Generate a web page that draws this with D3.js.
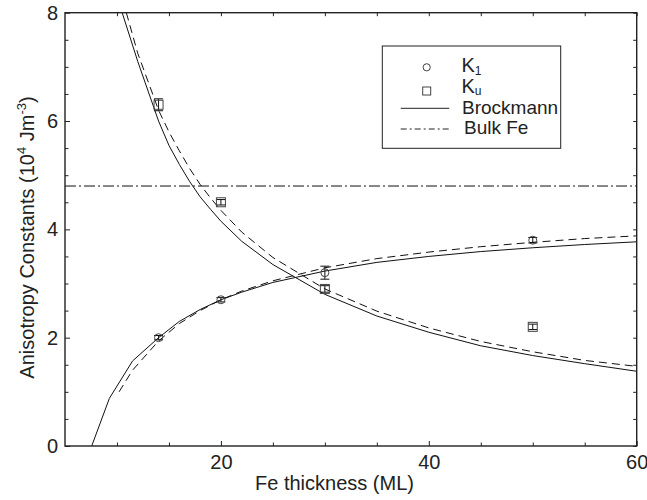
<!DOCTYPE html>
<html><head><meta charset="utf-8">
<script src="https://cdn.jsdelivr.net/npm/d3@7"></script>
<style>body{margin:0;background:#fff}svg{display:block}text{font-family:"Liberation Sans",Arial,sans-serif;fill:#222}</style>
</head><body><svg id="c" width="647" height="500"></svg>
<script>
// Data
const k1Thickness = [14, 20, 30, 50];
const k1Values = [2.0, 2.7, 3.2, 3.8];
const k1Err = [0.04, 0.04, 0.12, 0.05];
const kuThickness = [14, 20, 30, 50];
const kuValues = [6.3, 4.5, 2.9, 2.2];
const kuErr = [0.11, 0.05, 0.06, 0.05];
// Brockmann model curves
const k1SolidT = [7.57, 9.27, 11.5, 14, 16, 18, 20, 22, 25, 30, 35, 40, 45, 50, 55, 60];
const k1SolidV = [0, 0.88, 1.57, 2.0, 2.3, 2.52, 2.7, 2.84, 3.02, 3.23, 3.39, 3.5, 3.59, 3.66, 3.72, 3.77];
const k1DashT = [10.2, 11.5, 14, 16, 18, 20, 22, 25, 30, 35, 40, 45, 50, 55, 60];
const k1DashV = [1.0, 1.4, 1.94, 2.26, 2.5, 2.7, 2.86, 3.05, 3.29, 3.46, 3.58, 3.68, 3.76, 3.83, 3.88];
const kuSolidT = [10.5, 12, 14, 15, 16, 17, 18, 19, 20, 22, 25, 30, 35, 40, 45, 50, 55, 60];
const kuSolidV = [8.0, 7.1, 6.0, 5.55, 5.2, 4.88, 4.6, 4.37, 4.15, 3.78, 3.35, 2.8, 2.4, 2.1, 1.85, 1.67, 1.52, 1.38];
const kuDashT = [10.9, 12, 14, 15, 16, 17, 18, 19, 20, 22, 25, 30, 35, 40, 45, 50, 55, 60];
const kuDashV = [8.0, 7.25, 6.2, 5.8, 5.45, 5.12, 4.83, 4.58, 4.35, 3.95, 3.48, 2.9, 2.49, 2.18, 1.93, 1.74, 1.58, 1.47];
const bulkFe = 4.8;
const xTickLabels = [20, 40, 60];
const xMinorTicks = [10, 15, 25, 30, 35, 45, 50, 55];
const yTickLabels = [0, 2, 4, 6, 8];
const legendLabels = ["K", "K", "Brockmann", "Bulk Fe"];

const svg = d3.select("#c");
const L = 65, R = 636.7, T = 12.7, B = 446;
const x = d3.scaleLinear().domain([5, 60]).range([L, R]);
const y = d3.scaleLinear().domain([0, 8]).range([B, T]);

svg.append("defs").append("clipPath").attr("id", "pc")
  .append("rect").attr("x", L).attr("y", T).attr("width", R - L).attr("height", B - T);

const g = svg.append("g").attr("clip-path", "url(#pc)");
const lineLin = d3.line().x(d => x(d[0])).y(d => y(d[1]));
function curve(ts, vs, dash) {
  g.append("path").datum(ts.map((t, i) => [t, vs[i]]))
    .attr("d", lineLin).attr("fill", "none").attr("stroke", "#111").attr("stroke-width", 1)
    .attr("stroke-dasharray", dash);
}
curve(k1SolidT, k1SolidV, null);
curve(k1DashT, k1DashV, "8,5");
curve(kuSolidT, kuSolidV, null);
curve(kuDashT, kuDashV, "8,5");
g.append("line").attr("x1", L).attr("x2", R).attr("y1", y(bulkFe)).attr("y2", y(bulkFe))
  .attr("stroke", "#111").attr("stroke-width", 1).attr("stroke-dasharray", "11,3,2,3");

// Error bars and markers
function errbars(ts, vs, es) {
  ts.forEach((t, i) => {
    const cx = x(t);
    g.append("line").attr("x1", cx).attr("x2", cx).attr("y1", y(vs[i] - es[i])).attr("y2", y(vs[i] + es[i]))
      .attr("stroke", "#111").attr("stroke-width", 1);
    [vs[i] - es[i], vs[i] + es[i]].forEach(v => {
      g.append("line").attr("x1", cx - 4.5).attr("x2", cx + 4.5).attr("y1", y(v)).attr("y2", y(v))
        .attr("stroke", "#111").attr("stroke-width", 1);
    });
  });
}
errbars(k1Thickness, k1Values, k1Err);
errbars(kuThickness, kuValues, kuErr);
k1Thickness.forEach((t, i) => {
  g.append("circle").attr("cx", x(t)).attr("cy", y(k1Values[i])).attr("r", 4)
    .attr("fill", "none").attr("stroke", "#444").attr("stroke-width", 1);
});
kuThickness.forEach((t, i) => {
  g.append("rect").attr("x", x(t) - 4.5).attr("y", y(kuValues[i]) - 4.5).attr("width", 9).attr("height", 9)
    .attr("fill", "none").attr("stroke", "#444").attr("stroke-width", 1);
});

// Axes
const fs = 20;
const axB = svg.append("g").attr("transform", `translate(0,${B})`)
  .call(d3.axisBottom(x).tickValues(xTickLabels).tickSizeInner(-5).tickSizeOuter(0).tickPadding(9).tickFormat(d3.format("d")));
const axBm = svg.append("g").attr("transform", `translate(0,${B})`)
  .call(d3.axisBottom(x).tickValues(xMinorTicks).tickSizeInner(-3.5).tickSizeOuter(0).tickFormat(""));
const axT = svg.append("g").attr("transform", `translate(0,${T})`)
  .call(d3.axisTop(x).tickValues(xTickLabels.concat(xMinorTicks)).tickSizeInner(-3.5).tickSizeOuter(0).tickFormat(""));
const yMinor = d3.range(0.5, 8, 0.5).filter(v => !yTickLabels.includes(v));
const axL = svg.append("g").attr("transform", `translate(${L},0)`)
  .call(d3.axisLeft(y).tickValues(yTickLabels).tickSizeInner(-5).tickSizeOuter(0).tickPadding(7).tickFormat(d3.format("d")));
const axLm = svg.append("g").attr("transform", `translate(${L},0)`)
  .call(d3.axisLeft(y).tickValues(yMinor).tickSizeInner(-3.5).tickSizeOuter(0).tickFormat(""));
const axR = svg.append("g").attr("transform", `translate(${R},0)`)
  .call(d3.axisRight(y).tickValues(yTickLabels.concat(yMinor)).tickSizeInner(-3.5).tickSizeOuter(0).tickFormat(""));
[axB, axBm, axT, axL, axLm, axR].forEach(a => {
  a.select(".domain").remove();
  a.selectAll("line").attr("stroke", "#222").attr("stroke-width", 1);
  a.selectAll("text").attr("font-size", fs).attr("font-family", "Liberation Sans, Arial, sans-serif").attr("fill", "#222");
});
svg.append("rect").attr("x", L).attr("y", T).attr("width", R - L).attr("height", B - T)
  .attr("fill", "none").attr("stroke", "#222").attr("stroke-width", 1.4);

// Axis titles
svg.append("text").attr("x", 334.5).attr("y", 489.5).attr("text-anchor", "middle")
  .attr("font-size", 20).text("Fe thickness (ML)");
const yl = svg.append("text").attr("transform", "translate(33.5,237.5) rotate(-90)")
  .attr("text-anchor", "middle").attr("font-size", 20);
yl.append("tspan").text("Anisotropy Constants (10");
yl.append("tspan").attr("font-size", 13).attr("dy", -8).text("4");
yl.append("tspan").attr("dy", 8).text(" Jm");
yl.append("tspan").attr("font-size", 13).attr("dy", -8).text("-3");
yl.append("tspan").attr("dy", 8).text(")");

// Legend
const lg = svg.append("g");
lg.append("rect").attr("x", 382.3).attr("y", 46).attr("width", 560.7 - 382.3).attr("height", 148.3 - 46)
  .attr("fill", "#fff").attr("stroke", "#222").attr("stroke-width", 1);
lg.append("circle").attr("cx", 426.7).attr("cy", 67.3).attr("r", 3.6).attr("fill", "none").attr("stroke", "#444");
lg.append("rect").attr("x", 422.7).attr("y", 87).attr("width", 8).attr("height", 8).attr("fill", "none").attr("stroke", "#444");
lg.append("line").attr("x1", 400.7).attr("x2", 449.3).attr("y1", 108.3).attr("y2", 108.3).attr("stroke", "#222");
lg.append("line").attr("x1", 400.7).attr("x2", 449.3).attr("y1", 129).attr("y2", 129).attr("stroke", "#222").attr("stroke-dasharray", "6,3,2,3");
const t1 = lg.append("text").attr("x", 461.5).attr("y", 72.2).attr("font-size", 20);
t1.append("tspan").text(legendLabels[0]);
t1.append("tspan").attr("font-size", 12).attr("dy", 3).text("1");
const t2 = lg.append("text").attr("x", 461.5).attr("y", 93).attr("font-size", 20);
t2.append("tspan").text(legendLabels[1]);
t2.append("tspan").attr("font-size", 12).attr("dy", 1.5).text("u");
lg.append("text").attr("x", 462).attr("y", 114).attr("font-size", 19).text(legendLabels[2]);
lg.append("text").attr("x", 464).attr("y", 134).attr("font-size", 19).text(legendLabels[3]);
</script></body></html>
